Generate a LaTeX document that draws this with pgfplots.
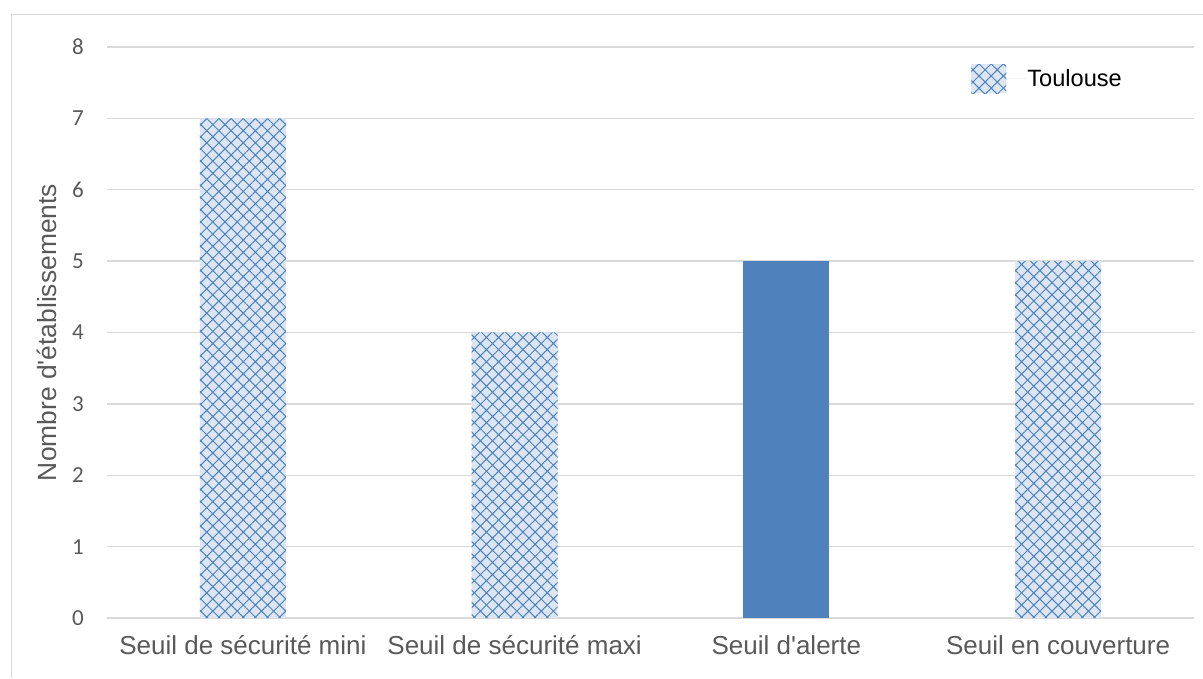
\documentclass[border=0pt]{standalone}
\usepackage{pgfplots}
\pgfplotsset{compat=1.18}
\usepackage{fontspec}
\setmainfont{Liberation Sans}
\newfontfamily\calibri{Carlito}
\usetikzlibrary{patterns.meta}

\definecolor{barblue}{HTML}{4F81BD}
\definecolor{barlight}{HTML}{DCE6F2}
\definecolor{gridgray}{HTML}{D9D9D9}
\definecolor{labelgray}{HTML}{595959}

\begin{document}
\begin{tikzpicture}[x=1pt,y=1pt]
% chart area and its frame
\path[use as bounding box] (0,0) rectangle (1203,678);
\draw[gridgray, line width=1.5pt] (11.5,0) -- (11.5,663.5) -- (1203,663.5);

\begin{axis}[
  at={(107pt,60pt)}, anchor=south west,
  width=1087pt, height=571pt, scale only axis,
  xmin=-0.5, xmax=3.5, ymin=0, ymax=8,
  ybar, bar width=86pt, bar shift=0pt,
  xtick={0,1,2,3},
  xticklabels={Seuil de sécurité mini, Seuil de sécurité maxi, Seuil d\textquotesingle alerte, Seuil en couverture},
  ytick={0,1,...,8},
  ymajorgrids,
  grid style={gridgray, line width=1.5pt},
  axis line style={draw=none},
  major tick length=0pt,
  xticklabel style={font=\fontsize{26}{30}\selectfont, text=labelgray, anchor=north, inner sep=0pt, yshift=-17pt},
  yticklabel style={font=\calibri\fontsize{23}{27}\selectfont, text=labelgray, anchor=east, inner sep=0pt, xshift=-23pt},
  /pgf/number format/assume math mode=true,
  ylabel={Nombre d\textquotesingle établissements},
  ylabel style={font=\fontsize{26.4}{30}\selectfont, text=labelgray, at={(rel axis cs:0,0.5)}, anchor=center, yshift=60pt},
  legend style={draw=none, fill=none, at={(rel axis cs:0.795,0.944)}, anchor=west,
    inner sep=0pt, nodes={inner sep=0pt}, font=\fontsize{23.6}{28}\selectfont, text=black},
  legend image code/.code={
    \path[#1, draw=none] (0pt,-14.5pt) rectangle (35pt,14.5pt);
    \path (0pt,0pt) -- (56pt,0pt);
  },
]
% hatched bars
\addplot[draw=none, fill=barlight,
  postaction={pattern={Hatch[angle=45, distance=8.6pt, line width=1pt]}, pattern color=barblue}]
  coordinates {(0,7) (1,4) (3,5)};
\addlegendentry{Toulouse}
% solid bar
\addplot[draw=none, fill=barblue, forget plot]
  coordinates {(2,5)};
\end{axis}
\end{tikzpicture}
\end{document}
